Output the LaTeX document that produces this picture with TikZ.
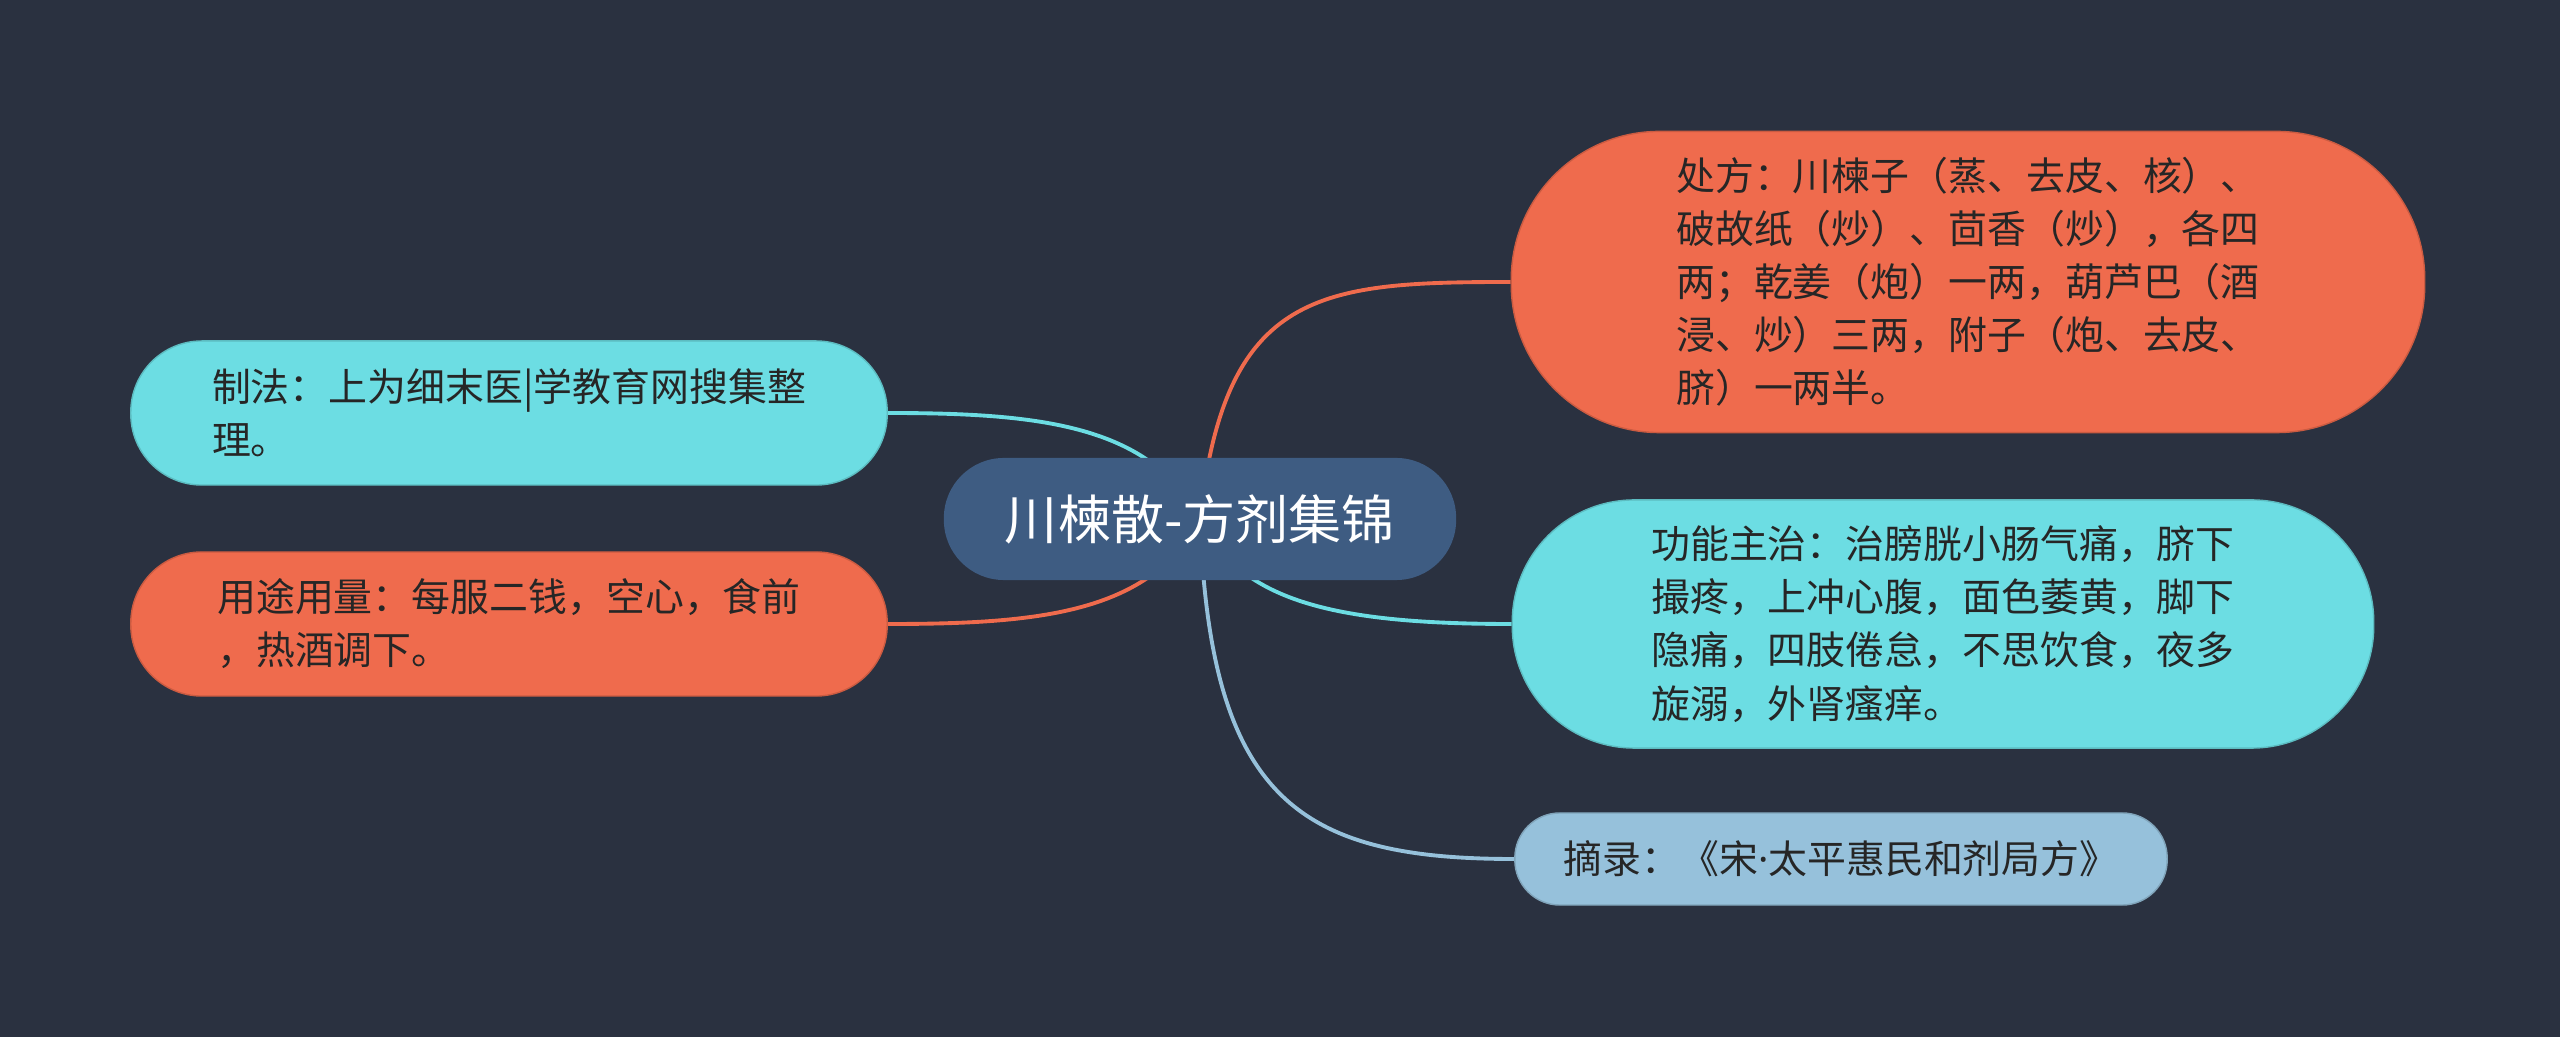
\documentclass[tikz,border=0pt]{standalone}
\usepackage{fontspec}
\newfontfamily\cjk{Noto Sans CJK SC}
\newfontfamily\latinsans{Noto Sans}
\usetikzlibrary{backgrounds}
\definecolor{bgc}{HTML}{2A3140}
\definecolor{rootc}{HTML}{3E5C82}
\definecolor{orc}{HTML}{EF6B4D}
\definecolor{cyc}{HTML}{6CDDE3}
\definecolor{lbc}{HTML}{96C1DB}
\definecolor{txc}{HTML}{262626}
\tikzset{
  topic/.style={rectangle, align=left, inner sep=0pt, text=txc,
    font=\cjk\fontsize{11.06pt}{15.1pt}\selectfont},
  conn/.style={line width=1.1pt},
}
\begin{document}
\begin{tikzpicture}[x=0.01cm,y=-0.01cm]
\useasboundingbox (0,0) rectangle (2560,1037);
% nodes
\node[rectangle, rounded corners=0.6cm, fill=rootc, minimum width=5.12cm, minimum height=1.22cm,
      text=white, font=\cjk\fontsize{15.1pt}{18pt}\selectfont] (root) at (1200,519) {川楝散-方剂集锦};
\node[topic, fill=orc, draw=orc!85!black, line width=0.4pt, rounded corners=1.48cm,
      minimum width=9.13cm, minimum height=3.01cm] (chufang) at (1968,282)
  {处方：川楝子（蒸、去皮、核）、\\破故纸（炒）、茴香（炒），各四\\两；乾姜（炮）一两，葫芦巴（酒\\浸、炒）三两，附子（炮、去皮、\\脐）一两半。};
\node[topic, fill=cyc, draw=cyc!85!black, line width=0.4pt, rounded corners=1.22cm,
      minimum width=8.61cm, minimum height=2.48cm] (gongneng) at (1943,624)
  {功能主治：治膀胱小肠气痛，脐下\\撮疼，上冲心腹，面色萎黄，脚下\\隐痛，四肢倦怠，不思饮食，夜多\\旋溺，外肾瘙痒。};
\node[topic, fill=lbc, draw=lbc!85!black, line width=0.4pt, rounded corners=0.45cm,
      minimum width=6.52cm, minimum height=0.92cm] (zhailu) at (1841,859)
  {摘录：《宋{\latinsans ·}太平惠民和剂局方》};
\node[topic, fill=cyc, draw=cyc!85!black, line width=0.4pt, rounded corners=0.71cm,
      minimum width=7.56cm, minimum height=1.44cm] (zhifa) at (509,413)
  {制法：上为细末医|学教育网搜集整\\理。};
\node[topic, fill=orc, draw=orc!85!black, line width=0.4pt, rounded corners=0.71cm,
      minimum width=7.56cm, minimum height=1.44cm] (yongtu) at (509,624)
  {用途用量：每服二钱，空心，食前\\，热酒调下。};
% background and connectors
\begin{scope}[on background layer]
  \fill[bgc] (0,0) rectangle (2560,1037);
  \draw[conn, orc] (root.center) .. controls (1225,290) and (1320,282) .. (chufang.west);
  \draw[conn, cyc] (root.center) .. controls (1240,600) and (1330,624) .. (gongneng.west);
  \draw[conn, lbc] (root.center) .. controls (1210,800) and (1300,859) .. (zhailu.west);
  \draw[conn, cyc] (zhifa.east) .. controls (1040,413) and (1150,425) .. (root.center);
  \draw[conn, orc] (yongtu.east) .. controls (1040,624) and (1150,613) .. (root.center);
\end{scope}
\end{tikzpicture}
\end{document}
